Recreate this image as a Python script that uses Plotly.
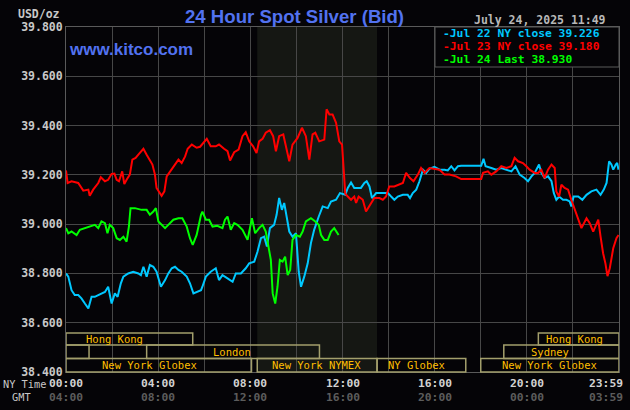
import plotly.graph_objects as go

# ---------------- data ----------------
# (hour of NY day, price USD/oz)
jul22 = [(0.00,38.800),(0.10,38.787),(0.24,38.732),(0.38,38.712),(0.53,38.712),(0.67,38.699),(0.82,38.678),(0.97,38.658),
         (1.11,38.705),(1.25,38.705),(1.40,38.712),(1.54,38.719),(1.69,38.725),(1.83,38.746),(1.98,38.678),(2.12,38.719),
         (2.24,38.705),(2.38,38.760),(2.49,38.787),(2.70,38.800),(2.92,38.807),(3.14,38.800),(3.25,38.793),(3.36,38.827),
         (3.50,38.787),(3.64,38.834),(3.79,38.827),(3.93,38.807),(4.12,38.746),(4.30,38.773),(4.44,38.800),(4.59,38.821),
         (4.73,38.827),(4.88,38.814),(5.02,38.807),(5.24,38.787),(5.38,38.760),(5.53,38.719),(5.67,38.725),(5.86,38.732),
         (5.92,38.746),(6.07,38.787),(6.28,38.807),(6.50,38.821),(6.64,38.773),(6.79,38.793),(7.01,38.780),(7.23,38.766),
         (7.37,38.800),(7.59,38.800),(7.80,38.821),(7.95,38.841),(8.17,38.848),(8.31,38.888),(8.46,38.943),(8.60,38.949),
         (8.72,38.909),(8.85,38.984),(9.03,38.997),(9.14,39.038),(9.25,39.106),(9.37,39.058),(9.47,39.086),(9.57,39.038),
         (9.69,38.970),(9.83,38.949),(9.98,38.963),(10.10,38.807),(10.20,38.746),(10.34,38.787),(10.49,38.841),(10.63,38.923),
         (10.77,38.977),(10.97,39.031),(11.14,39.072),(11.36,39.065),(11.50,39.092),(11.72,39.099),(11.89,39.126),(12.12,39.119),
         (12.23,39.147),(12.37,39.169),(12.51,39.147),(12.66,39.147),(12.80,39.147),(12.95,39.167),(13.05,39.174),(13.17,39.153),
         (13.28,39.106),(13.46,39.126),(13.60,39.126),(13.82,39.126),(13.97,39.126),(14.11,39.112),(14.25,39.099),(14.40,39.112),
         (14.62,39.119),(14.83,39.119),(14.93,39.106),(15.05,39.126),(15.20,39.140),(15.34,39.174),(15.49,39.221),(15.63,39.208),
         (15.77,39.224),(15.99,39.232),(16.21,39.221),(16.43,39.221),(16.57,39.218),(16.72,39.235),(16.86,39.218),(17.01,39.235),
         (17.15,39.237),(17.54,39.237),(17.95,39.237),(18.02,39.237),(18.12,39.265),(18.21,39.235),(18.46,39.228),(18.67,39.221),
         (18.89,39.228),(19.11,39.221),(19.33,39.214),(19.51,39.235),(19.69,39.201),(19.90,39.187),(20.05,39.174),(20.20,39.194),
         (20.34,39.208),(20.53,39.242),(20.63,39.208),(20.77,39.187),(20.92,39.194),(21.07,39.174),(21.17,39.126),(21.28,39.099),
         (21.40,39.112),(21.57,39.099),(21.72,39.099),(21.86,39.092),(21.93,39.072),(22.03,39.112),(22.23,39.112),(22.41,39.099),
         (22.59,39.119),(22.80,39.133),(23.02,39.140),(23.20,39.119),(23.34,39.140),(23.46,39.167),(23.57,39.255),(23.67,39.242),
         (23.75,39.221),(23.86,39.242),(23.92,39.248),(23.98,39.221)]

jul23 = [(0.00,39.218),(0.07,39.167),(0.24,39.174),(0.53,39.167),(0.75,39.136),(0.97,39.140),(1.03,39.115),(1.18,39.140),
         (1.40,39.167),(1.51,39.190),(1.69,39.174),(1.83,39.180),(1.98,39.204),(2.10,39.205),(2.20,39.180),(2.30,39.174),
         (2.44,39.214),(2.53,39.163),(2.63,39.180),(2.77,39.201),(2.88,39.262),(3.02,39.269),(3.14,39.282),(3.36,39.306),
         (3.50,39.282),(3.64,39.262),(3.75,39.242),(3.86,39.201),(3.93,39.147),(4.15,39.115),(4.27,39.133),(4.37,39.194),
         (4.51,39.214),(4.73,39.242),(4.88,39.262),(5.02,39.248),(5.17,39.275),(5.28,39.306),(5.46,39.323),(5.67,39.310),
         (5.82,39.314),(6.11,39.346),(6.28,39.316),(6.50,39.316),(6.64,39.323),(6.86,39.306),(7.01,39.296),(7.12,39.258),
         (7.30,39.292),(7.49,39.303),(7.66,39.357),(7.80,39.373),(7.95,39.336),(8.12,39.316),(8.27,39.289),(8.38,39.336),
         (8.53,39.346),(8.67,39.371),(8.85,39.381),(8.99,39.357),(9.11,39.296),(9.25,39.357),(9.43,39.364),(9.51,39.330),
         (9.69,39.255),(9.83,39.323),(10.05,39.350),(10.24,39.391),(10.41,39.357),(10.56,39.262),(10.70,39.364),(10.82,39.371),
         (10.99,39.336),(11.21,39.343),(11.31,39.466),(11.43,39.445),(11.57,39.445),(11.72,39.411),(11.86,39.336),(11.98,39.323),
         (12.03,39.235),(12.12,39.123),(12.23,39.112),(12.37,39.099),(12.51,39.112),(12.59,39.086),(12.70,39.112),(12.88,39.099),
         (13.02,39.051),(13.17,39.072),(13.38,39.106),(13.60,39.106),(13.75,39.099),(13.89,39.112),(14.03,39.153),(14.25,39.153),
         (14.40,39.160),(14.62,39.167),(14.76,39.208),(14.93,39.187),(15.08,39.174),(15.27,39.201),(15.41,39.228),(15.56,39.208),
         (15.77,39.228),(15.99,39.224),(16.21,39.221),(16.43,39.201),(16.64,39.201),(16.93,39.194),(17.15,39.183),(17.54,39.183),
         (17.95,39.183),(18.02,39.183),(18.10,39.208),(18.31,39.214),(18.46,39.201),(18.67,39.214),(18.89,39.235),(19.11,39.228),
         (19.33,39.235),(19.47,39.269),(19.62,39.255),(19.83,39.248),(19.98,39.235),(20.12,39.221),(20.34,39.208),(20.49,39.208),
         (20.63,39.221),(20.77,39.187),(20.92,39.221),(21.07,39.242),(21.21,39.228),(21.28,39.133),(21.40,39.112),(21.50,39.160),
         (21.64,39.147),(21.79,39.140),(21.93,39.099),(22.08,39.058),(22.23,39.018),(22.37,38.984),(22.59,39.024),(22.73,39.004),
         (22.88,38.970),(23.10,39.018),(23.20,38.949),(23.31,38.882),(23.41,38.841),(23.50,38.789),(23.60,38.821),(23.75,38.902),
         (23.89,38.943),(23.98,38.956)]

jul24 = [(0.00,38.984),(0.10,38.963),(0.24,38.970),(0.46,38.956),(0.60,38.977),(0.82,38.984),(1.03,38.988),(1.25,38.997),
         (1.40,38.984),(1.54,39.011),(1.69,39.004),(1.80,38.963),(1.90,38.997),(2.05,38.984),(2.20,38.943),(2.34,38.936),
         (2.49,38.949),(2.63,38.929),(2.73,38.990),(2.80,39.065),(2.99,39.065),(3.28,39.058),(3.50,39.058),(3.64,39.038),
         (3.79,39.051),(3.90,39.065),(4.01,39.011),(4.15,38.997),(4.30,38.984),(4.44,38.997),(4.66,39.018),(4.88,39.024),
         (5.05,39.024),(5.24,38.990),(5.38,38.943),(5.50,38.916),(5.67,38.956),(5.86,39.038),(5.92,39.051),(6.07,39.018),
         (6.21,39.018),(6.36,38.990),(6.57,38.993),(6.79,38.984),(6.90,39.018),(7.01,39.031),(7.15,38.977),(7.30,39.004),
         (7.44,38.997),(7.66,38.977),(7.88,38.936),(8.07,39.024),(8.21,38.963),(8.38,38.984),(8.53,38.997),(8.67,38.970),
         (8.79,38.909),(8.89,38.855),(8.97,38.719),(9.08,38.678),(9.18,38.746),(9.28,38.855),(9.40,38.848),(9.51,38.868),
         (9.62,38.793),(9.73,38.814),(9.83,38.936),(9.98,38.956),(10.15,38.949),(10.27,38.970),(10.41,39.011),(10.63,39.024),
         (10.82,39.011),(10.97,38.997),(11.07,38.956),(11.21,38.936),(11.36,38.936),(11.50,38.970),(11.64,38.984),(11.75,38.970),
         (11.83,38.956)]

series_names = ["Jul 22 NY close 39.226", "Jul 23 NY close 39.180", "Jul 24 Last 38.930"]

ny_tick_hours = [0, 4, 8, 12, 16, 20, 24]
ny_tick_text = ["00:00", "04:00", "08:00", "12:00", "16:00", "20:00", "23:59"]
gmt_tick_text = ["04:00", "08:00", "12:00", "16:00", "20:00", "00:00", "03:59"]

# trading sessions: name, row (0 = top), start hour, end hour
session_names = ["Hong Kong", "Hong Kong", "", "London", "Sydney", "New York Globex", "New York NYMEX", "NY Globex", "New York Globex"]
session_rows = [0, 0, 1, 1, 1, 2, 2, 2, 2]
session_start = [0.0, 20.5, 0.0, 3.5, 19.0, 0.0, 8.3, 13.5, 18.0]
session_end = [5.5, 24.0, 1.0, 11.0, 24.0, 8.05, 13.5, 17.35, 24.0]
nymex_shade = (8.3, 13.5)

# ---------------- styling / layout ----------------
W, H = 630, 410
L, R, T, B = 66, 11, 27, 38
PW, PH = W - L - R, H - T - B
BG = "#050407"
GRID = "#474747"
MONO = "DejaVu Sans Mono"
BLUE = "#5272f0"

def px(x):
    return (x - L) / PW

def py(y):
    return (H - B - y) / PH

colors = ["#00c8ff", "#ff0000", "#00ff00"]
fig = go.Figure()
for data, c, name in zip([jul22, jul23, jul24], colors, series_names):
    fig.add_trace(go.Scatter(x=[d[0] for d in data], y=[d[1] for d in data], mode="lines",
                             line=dict(color=c, width=2), name=name, hoverinfo="skip"))

shapes = []
# NYMEX shaded region
shapes.append(dict(type="rect", xref="x", yref="paper", x0=nymex_shade[0], x1=nymex_shade[1], y0=0, y1=1,
                   fillcolor="#151713", line=dict(width=0), layer="below"))

# session boxes
row_bounds = [(py(345), py(333)), (py(358.5), py(345)), (0.0, py(358.5))]
label_hours = [2.11, 22.07, None, 7.2, 21.0, 3.63, 10.85, 15.2, 20.99]
annotations = []
for name, row, s, e, lh in zip(session_names, session_rows, session_start, session_end, label_hours):
    y0, y1 = row_bounds[row]
    shapes.append(dict(type="rect", xref="x", yref="paper", x0=s, x1=e, y0=y0, y1=y1,
                       line=dict(color="#a39f6c", width=1.5), fillcolor="rgba(0,0,0,0)", layer="above"))
    if name:
        annotations.append(dict(x=lh, y=(y0 + y1) / 2, xref="x", yref="paper", text=name, showarrow=False,
                                xanchor="center", yanchor="middle",
                                font=dict(family=MONO, size=10.5, color="#ffbf00")))

# legend box
shapes.append(dict(type="rect", xref="paper", yref="paper", x0=px(435), x1=1, y0=py(67), y1=1,
                   fillcolor=BG, line=dict(color="#5a5a5a", width=1), layer="above"))
for i, (name, c) in enumerate(zip(series_names, colors)):
    yy = py([33, 46.3, 59.6][i])
    annotations.append(dict(x=px(441), y=yy, xref="paper", yref="paper", text="<b>-" + name + "</b>",
                            showarrow=False, xanchor="left", yanchor="middle",
                            font=dict(family=MONO, size=11.3, color=c)))

# x tick labels (two rows)
for h, nyt, gt in zip(ny_tick_hours, ny_tick_text, gmt_tick_text):
    last = h == 24
    annotations.append(dict(x=h, y=py(383.5), xref="x", yref="paper", text="<b>" + nyt + "</b>", showarrow=False,
                            xanchor="right" if last else "center", xshift=6 if last else 0, yanchor="middle",
                            font=dict(family=MONO, size=11.3, color="#d2d2d2")))
    annotations.append(dict(x=h, y=py(397.5), xref="x", yref="paper", text="<b>" + gt + "</b>",
                            showarrow=False, xanchor="right" if last else "center", xshift=6 if last else 0,
                            yanchor="middle", font=dict(family=MONO, size=11.3, color="#5c5c5c")))

annotations += [
    dict(x=px(1), y=py(383.5), xref="paper", yref="paper", text="NY Time", showarrow=False, xanchor="left",
         yanchor="middle", font=dict(family=MONO, size=10.3, color="#c8c8c8")),
    dict(x=px(10), y=py(396.5), xref="paper", yref="paper", text="GMT", showarrow=False, xanchor="left",
         yanchor="middle", font=dict(family=MONO, size=10.3, color="#c8c8c8")),
    dict(x=px(61.5), y=py(13.5), xref="paper", yref="paper", text="<b>USD/oz</b>", showarrow=False, xanchor="right",
         yanchor="middle", font=dict(family=MONO, size=11.5, color="#c8c8c8")),
    dict(x=px(608), y=py(20.5), xref="paper", yref="paper", text="<b>July 24, 2025 11:49</b>", showarrow=False,
         xanchor="right", yanchor="middle", font=dict(family=MONO, size=11.5, color="#b8b8b8")),
    dict(x=px(294), y=py(16), xref="paper", yref="paper", text="<b>24 Hour Spot Silver (Bid)</b>", showarrow=False,
         xanchor="center", yanchor="middle", font=dict(family="Liberation Sans", size=18.6, color=BLUE)),
    dict(x=px(67), y=py(49.5), xref="paper", yref="paper", text="<b>www.kitco.com</b>", showarrow=False,
         xanchor="left", yanchor="middle", font=dict(family="Liberation Sans", size=17, color=BLUE)),
]

fig.update_layout(
    width=W, height=H, margin=dict(l=L, r=R, t=T, b=B, pad=0),
    paper_bgcolor=BG, plot_bgcolor=BG, showlegend=False,
    shapes=shapes, annotations=annotations,
    xaxis=dict(range=[0, 24], tick0=0, dtick=2, showgrid=True, gridcolor=GRID, gridwidth=1,
               showticklabels=False, zeroline=False, showline=True, mirror=True, linecolor="#5a5a5a", ticks=""),
    yaxis=dict(range=[38.4, 39.8], tick0=38.4, dtick=0.2, tickformat=".3f", showgrid=True, gridcolor=GRID,
               gridwidth=1, zeroline=False, showline=True, mirror=True, linecolor="#5a5a5a", ticks="",
               tickfont=dict(family=MONO, size=11.5, color="#c8c8c8", weight="bold")),
)

fig.write_html("out.html")
